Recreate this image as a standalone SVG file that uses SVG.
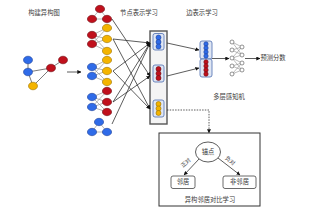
<svg xmlns="http://www.w3.org/2000/svg" width="313" height="212" viewBox="0 0 313 212">
<defs>
<style>
.t{font-family:"Noto Sans CJK SC","Noto Sans",sans-serif;font-size:6.3px;fill:#3a3a3a;text-anchor:middle;dominant-baseline:middle}
.b{fill:#2f6be8;stroke:#1c3f99;stroke-width:0.6}
.r{fill:#c0101c;stroke:#6e0a10;stroke-width:0.6}
.y{fill:#f4b400;stroke:#9a7000;stroke-width:0.6}
.g{stroke:#9a9a9a;stroke-width:0.7;fill:none}
.k{stroke:#333;stroke-width:0.8;fill:none}
.in{fill:#dfe6f3;stroke:#4b6cb0;stroke-width:0.8}
.m{fill:#fff;stroke:#666;stroke-width:0.7}
</style>
<marker id="ah" viewBox="0 0 6 6" refX="5.5" refY="3" markerWidth="5" markerHeight="5" orient="auto"><path d="M0,0L6,3L0,6z" fill="#111"/></marker>
</defs>

<g id="title-build"><text class="t" x="44" y="13">构建异构图</text></g>
<g id="title-node"><text class="t" x="139" y="13">节点表示学习</text></g>
<g id="title-edge"><text class="t" x="202" y="13">边表示学习</text></g>

<g id="hetero-graph">
<path class="g" d="M28,60L28,72L51,68L63,60M28,72L33,86L51,68" style="stroke:#444"/>
<ellipse class="b" cx="28" cy="60" rx="4.5" ry="3.8"/>
<ellipse class="b" cx="28" cy="72" rx="4.5" ry="3.8"/>
<ellipse class="r" cx="51" cy="68" rx="4.5" ry="3.8"/>
<ellipse class="r" cx="63" cy="60" rx="4.5" ry="3.8"/>
<ellipse class="y" cx="33" cy="86" rx="4.5" ry="3.8"/>
</g>

<g id="ego-graphs">
<path class="g" d="M100,9L92,19L107,19Z"/>
<path class="g" d="M92,35L107,28M92,35L107,39M92,35L107,51M92,44L107,28M92,44L107,39M92,44L107,51"/>
<path class="g" d="M92,67L107,60M92,67L107,71M92,67L107,82M92,76L107,60M92,76L107,71M92,76L107,82"/>
<path class="g" d="M92,97L107,91M92,97L107,102M92,97L107,112M92,107L107,91M92,107L107,102M92,107L107,112"/>
<path class="g" d="M99,122L92,132L107,132Z"/>
<ellipse class="r" cx="100" cy="9" rx="4.6" ry="3.7"/>
<ellipse class="r" cx="92" cy="19" rx="4.6" ry="3.7"/>
<ellipse class="r" cx="107" cy="19" rx="4.6" ry="3.7"/>
<ellipse class="r" cx="92" cy="35" rx="4.6" ry="3.7"/>
<ellipse class="r" cx="92" cy="44" rx="4.6" ry="3.7"/>
<ellipse class="y" cx="107" cy="28" rx="4.6" ry="3.7"/>
<ellipse class="y" cx="107" cy="39" rx="4.6" ry="3.7"/>
<ellipse class="y" cx="107" cy="51" rx="4.6" ry="3.7"/>
<ellipse class="b" cx="92" cy="67" rx="4.6" ry="3.7"/>
<ellipse class="b" cx="92" cy="76" rx="4.6" ry="3.7"/>
<ellipse class="y" cx="107" cy="60" rx="4.6" ry="3.7"/>
<ellipse class="y" cx="107" cy="71" rx="4.6" ry="3.7"/>
<ellipse class="y" cx="107" cy="82" rx="4.6" ry="3.7"/>
<ellipse class="b" cx="92" cy="97" rx="4.6" ry="3.7"/>
<ellipse class="b" cx="92" cy="107" rx="4.6" ry="3.7"/>
<ellipse class="r" cx="107" cy="91" rx="4.6" ry="3.7"/>
<ellipse class="r" cx="107" cy="102" rx="4.6" ry="3.7"/>
<ellipse class="r" cx="107" cy="112" rx="4.6" ry="3.7"/>
<ellipse class="b" cx="99" cy="122" rx="4.6" ry="3.7"/>
<ellipse class="b" cx="92" cy="132" rx="4.6" ry="3.7"/>
<ellipse class="b" cx="107" cy="132" rx="4.6" ry="3.7"/>
</g>

<g id="node-repr">
<rect x="150" y="31" width="17" height="93" fill="#f4f4f4" stroke="#555" stroke-width="1.4"/>
<rect class="in" x="153" y="33.5" width="11" height="16.5" rx="2"/>
<rect class="in" x="153" y="65" width="11" height="17" rx="2"/>
<rect class="in" x="153" y="100" width="11" height="17" rx="2"/>
<circle class="b" cx="158.5" cy="37.5" r="2.5"/>
<circle class="b" cx="158.5" cy="42" r="2.5"/>
<circle class="b" cx="158.5" cy="46.5" r="2.5"/>
<circle class="r" cx="158.5" cy="69" r="2.5"/>
<circle class="r" cx="158.5" cy="73.5" r="2.5"/>
<circle class="r" cx="158.5" cy="78" r="2.5"/>
<circle class="y" cx="158.5" cy="104" r="2.5"/>
<circle class="y" cx="158.5" cy="108.5" r="2.5"/>
<circle class="y" cx="158.5" cy="113" r="2.5"/>
</g>

<g id="edge-repr">
<rect class="in" x="200" y="41" width="12" height="18" rx="2"/>
<rect class="in" x="200" y="59" width="12" height="18" rx="2"/>
<circle class="b" cx="206" cy="44" r="2.2"/>
<circle class="b" cx="206" cy="48" r="2.2"/>
<circle class="b" cx="206" cy="52" r="2.2"/>
<circle class="b" cx="206" cy="56" r="2.2"/>
<circle class="r" cx="206" cy="62" r="2.2"/>
<circle class="r" cx="206" cy="66" r="2.2"/>
<circle class="r" cx="206" cy="70" r="2.2"/>
<circle class="r" cx="206" cy="74" r="2.2"/>
</g>

<g id="mlp">
<path class="g" d="M232,42L242,47M232,50L242,47M232,50L242,55M232,58L242,55M232,58L242,63M232,66L242,63M232,66L242,70M232,74L242,70M232,42L242,55M232,58L242,47M232,58L242,70M232,74L242,63" style="stroke:#777;stroke-width:0.5"/>
<circle class="m" cx="232" cy="42" r="2"/>
<circle class="m" cx="232" cy="50" r="2"/>
<circle class="m" cx="232" cy="58" r="2"/>
<circle class="m" cx="232" cy="66" r="2"/>
<circle class="m" cx="232" cy="74" r="2"/>
<circle class="m" cx="242" cy="47" r="2"/>
<circle class="m" cx="242" cy="55" r="2"/>
<circle class="m" cx="242" cy="63" r="2"/>
<circle class="m" cx="242" cy="70" r="2"/>
<text class="t" x="229" y="97">多层感知机</text>
</g>

<g id="score"><text class="t" x="273" y="58.5">预测分数</text></g>

<g id="contrast">
<rect x="159" y="133" width="101" height="73" fill="#fff" stroke="#333" stroke-width="1"/>
<ellipse cx="208" cy="152" rx="12.5" ry="10" fill="#fff" stroke="#333" stroke-width="0.8"/>
<text class="t" x="208" y="152">锚点</text>
<rect x="171" y="176" width="24" height="12.5" rx="2" fill="#fff" stroke="#444" stroke-width="0.8"/>
<text class="t" x="183" y="182.5">邻居</text>
<rect x="223" y="176" width="33" height="12.5" rx="2" fill="#fff" stroke="#444" stroke-width="0.8"/>
<text class="t" x="239.5" y="182.5">非邻居</text>
<text class="t" x="186" y="163" transform="rotate(-42 186 163)" style="font-size:5.5px">正对</text>
<text class="t" x="230" y="161" transform="rotate(38 230 161)" style="font-size:5.5px">负对</text>
<text class="t" x="210" y="200">异构邻居对比学习</text>
</g>

<g id="connectors">
<path class="k" d="M67,72L81,72" marker-end="url(#ah)"/>
<path class="k" d="M112,19L150,76" marker-end="url(#ah)"/>
<path class="k" d="M113,39L150,43" marker-end="url(#ah)"/>
<path class="k" d="M113,39L150,109" marker-end="url(#ah)"/>
<path class="k" d="M113,71L150,43" marker-end="url(#ah)"/>
<path class="k" d="M113,71L150,109" marker-end="url(#ah)"/>
<path class="k" d="M113,102L150,43" marker-end="url(#ah)"/>
<path class="k" d="M113,102L150,76" marker-end="url(#ah)"/>
<path class="k" d="M112,124L150,43" marker-end="url(#ah)"/>
<path class="k" d="M167,43L199,50" marker-end="url(#ah)"/>
<path class="k" d="M167,76L199,68" marker-end="url(#ah)"/>
<path class="k" d="M212,58.5L229,58.5" marker-end="url(#ah)"/>
<path class="k" d="M245,58.5L260,58.5" marker-end="url(#ah)"/>
<path class="k" d="M167,110L209,110L209,133" stroke-dasharray="1.5,1.2" stroke-width="1" marker-end="url(#ah)"/>
<path class="k" d="M199,159L184,175" marker-end="url(#ah)"/>
<path class="k" d="M218,158L240,175" marker-end="url(#ah)"/>
</g>
</svg>
